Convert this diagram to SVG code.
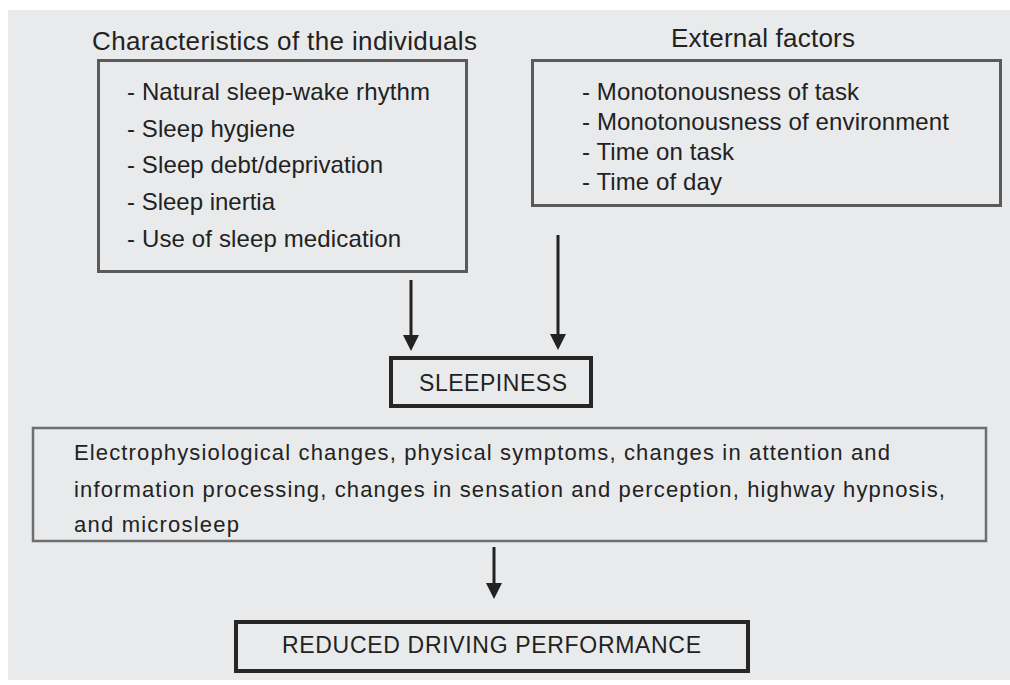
<svg xmlns="http://www.w3.org/2000/svg" width="1010" height="685" viewBox="0 0 1010 685">
<defs>
<style>
text{font-family:"Liberation Sans",Arial,sans-serif;fill:#222;}
.title{font-size:26px;}
.item{font-size:24px;}
.body{font-size:22px;}
.key{font-size:23px;}
.box{fill:none;stroke:#5a5a5a;stroke-width:3;}
.thin{fill:none;stroke:#6e6e6e;stroke-width:2.5;}
.thick{fill:none;stroke:#262626;stroke-width:4;}
.arrow{stroke:#222;stroke-width:3;fill:none;marker-end:url(#head);}
</style>
<marker id="head" viewBox="0 0 16 16" refX="8" refY="8" markerWidth="16" markerHeight="16" markerUnits="userSpaceOnUse" orient="auto">
<path d="M0,0 L16,8 L0,16 z" fill="#222"/>
</marker>
</defs>
<rect x="0" y="0" width="1010" height="685" fill="#ffffff"/>
<rect x="8" y="10" width="1002" height="670" fill="#e9eaeb"/>

<g id="individuals">
<text class="title" x="92" y="50" textLength="385" lengthAdjust="spacing">Characteristics of the individuals</text>
<rect class="box" x="98.5" y="60.5" width="368" height="211"/>
<text class="item" x="127" y="100" textLength="303" lengthAdjust="spacing">- Natural sleep-wake rhythm</text>
<text class="item" x="127" y="137" textLength="168" lengthAdjust="spacing">- Sleep hygiene</text>
<text class="item" x="127" y="173" textLength="256" lengthAdjust="spacing">- Sleep debt/deprivation</text>
<text class="item" x="127" y="210" textLength="148" lengthAdjust="spacing">- Sleep inertia</text>
<text class="item" x="127" y="247" textLength="274" lengthAdjust="spacing">- Use of sleep medication</text>
</g>

<g id="external">
<text class="title" x="671" y="47" textLength="184" lengthAdjust="spacing">External factors</text>
<rect class="box" x="532.5" y="60.5" width="468" height="145"/>
<text class="item" x="582" y="100" textLength="277" lengthAdjust="spacing">- Monotonousness of task</text>
<text class="item" x="582" y="130" textLength="367" lengthAdjust="spacing">- Monotonousness of environment</text>
<text class="item" x="582" y="160" textLength="152" lengthAdjust="spacing">- Time on task</text>
<text class="item" x="582" y="190" textLength="140" lengthAdjust="spacing">- Time of day</text>
</g>

<g id="sleepiness">
<rect class="thick" x="391" y="358" width="200" height="48"/>
<text class="key" x="419" y="391" textLength="148" lengthAdjust="spacing">SLEEPINESS</text>
</g>

<g id="changes">
<rect class="thin" x="33" y="428" width="953" height="113"/>
<text class="body" x="74" y="460" textLength="816" lengthAdjust="spacing">Electrophysiological changes, physical symptoms, changes in attention and</text>
<text class="body" x="74" y="497" textLength="871" lengthAdjust="spacing">information processing, changes in sensation and perception, highway hypnosis,</text>
<text class="body" x="74" y="532" textLength="165" lengthAdjust="spacing">and microsleep</text>
</g>

<g id="performance">
<rect class="thick" x="236" y="622" width="512" height="49"/>
<text class="key" x="282" y="653" textLength="419" lengthAdjust="spacing">REDUCED DRIVING PERFORMANCE</text>
</g>

<g id="connectors">
<line class="arrow" x1="411" y1="280" x2="411" y2="343"/>
<line class="arrow" x1="558" y1="235" x2="558" y2="342"/>
<line class="arrow" x1="494" y1="547" x2="494" y2="591"/>
</g>
</svg>
